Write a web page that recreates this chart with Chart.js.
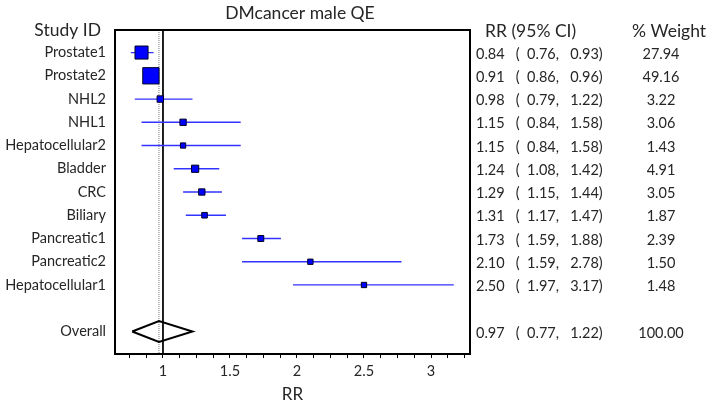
<!DOCTYPE html>
<html>
<head>
<meta charset="utf-8">
<script src="https://cdn.jsdelivr.net/npm/chart.js@4.4.1/dist/chart.umd.min.js"></script>
<style>
  html, body { margin: 0; padding: 0; background: #fff; }
  #wrap { width: 714px; height: 407px; }
</style>
</head>
<body>
<div id="wrap"><canvas id="forest" width="714" height="407"></canvas></div>
<script>
const chartTitle = 'DMcancer male QE';
const studies = ['Prostate1', 'Prostate2', 'NHL2', 'NHL1', 'Hepatocellular2', 'Bladder', 'CRC', 'Biliary', 'Pancreatic1', 'Pancreatic2', 'Hepatocellular1'];
const rr = [0.84, 0.91, 0.98, 1.15, 1.15, 1.24, 1.29, 1.31, 1.73, 2.10, 2.50];
const ciLow = [0.76, 0.86, 0.79, 0.84, 0.84, 1.08, 1.15, 1.17, 1.59, 1.59, 1.97];
const ciHigh = [0.93, 0.96, 1.22, 1.58, 1.58, 1.42, 1.44, 1.47, 1.88, 2.78, 3.17];
const weights = [27.94, 49.16, 3.22, 3.06, 1.43, 4.91, 3.05, 1.87, 2.39, 1.50, 1.48];
const overallLabel = 'Overall';
const overallRR = 0.97;
const overallLow = 0.77;
const overallHigh = 1.22;
const overallWeight = 100.00;
const xTickLabels = [1, 1.5, 2, 2.5, 3];

const FONT = 'Lato';
const TEXT = '#262626';

// row layout: one row per study, a blank row, then the overall row
const overallRow = studies.length + 1;
const rowLabels = studies.concat(['', overallLabel]);
const yMin = -0.97, yMax = overallRow + 0.97;

const squares = rr.map((v, i) => ({ x: v, y: i }));
const boxSide = weights.map(w => 3 + 1.9 * Math.sqrt(w));
const ciSegments = [];
rr.forEach((v, i) => {
  ciSegments.push({ x: ciLow[i], y: i }, { x: ciHigh[i], y: i }, { x: null, y: null });
});
const dh = 0.45;
const diamond = [
  { x: overallLow, y: overallRow },
  { x: overallRR, y: overallRow - dh },
  { x: overallHigh, y: overallRow },
  { x: overallRR, y: overallRow + dh },
  { x: overallLow, y: overallRow }
];

const fmt = v => v.toFixed(2);

const tablePlugin = {
  id: 'forestTable',
  afterDraw(chart) {
    const { ctx, chartArea: a, scales: { y } } = chart;
    ctx.save();
    ctx.strokeStyle = '#000';
    ctx.lineWidth = 2;
    ctx.strokeRect(a.left, a.top, a.right - a.left, a.bottom - a.top);

    ctx.fillStyle = TEXT;
    ctx.textBaseline = 'alphabetic';
    ctx.font = '17.5px ' + FONT;
    ctx.textAlign = 'center';
    ctx.fillText(chartTitle, 300, 19);
    ctx.textAlign = 'right';
    ctx.fillText('Study ID', 101, 36);
    ctx.textAlign = 'left';
    ctx.fillText('RR (95% CI)', 485, 37);
    ctx.fillText('% Weight', 632, 37);

    ctx.font = '14.5px ' + FONT;
    ctx.textBaseline = 'middle';
    const rows = rr.map((v, i) => [i, v, ciLow[i], ciHigh[i], weights[i]]);
    rows.push([overallRow, overallRR, overallLow, overallHigh, overallWeight]);
    rows.forEach(([row, est, lo, hi, w]) => {
      const py = y.getPixelForValue(row) + 1.5;
      ctx.textAlign = 'left';
      ctx.fillText(fmt(est) + '   (  ' + fmt(lo) + ',   ' + fmt(hi) + ')', 476, py);
      ctx.textAlign = 'center';
      ctx.fillText(fmt(w), 661, py);
    });
    ctx.restore();
  }
};

new Chart(document.getElementById('forest'), {
  type: 'scatter',
  data: {
    datasets: [
      {
        data: squares,
        pointStyle: 'rect',
        pointRadius: boxSide.map(s => s / Math.SQRT2),
        backgroundColor: '#0000ff',
        borderColor: '#000022',
        pointBorderWidth: 1
      },
      {
        data: ciSegments,
        showLine: true,
        spanGaps: false,
        borderColor: '#3333ff',
        borderWidth: 1.3,
        pointRadius: 0
      },
      {
        data: diamond,
        showLine: true,
        borderColor: '#000',
        borderWidth: 2,
        pointRadius: 0
      },
      {
        data: [{ x: overallRR, y: yMin }, { x: overallRR, y: yMax }],
        showLine: true,
        borderColor: '#777',
        borderWidth: 1,
        borderDash: [1, 1],
        pointRadius: 0
      },
      {
        data: [{ x: 1, y: yMin }, { x: 1, y: yMax }],
        showLine: true,
        borderColor: '#000',
        borderWidth: 1,
        pointRadius: 0
      }
    ]
  },
  options: {
    responsive: false,
    animation: false,
    layout: { padding: { top: 30, right: 244, left: 0, bottom: 0 } },
    plugins: {
      legend: { display: false },
      tooltip: { enabled: false }
    },
    scales: {
      x: {
        type: 'linear',
        min: 0.642,
        max: 3.291,
        afterBuildTicks(scale) {
          const t = [];
          for (let v = 0.75; v <= 3.26; v += 0.125) t.push({ value: Math.round(v * 1000) / 1000 });
          scale.ticks = t;
        },
        afterFit(scale) { scale.height = 53; },
        border: { display: false },
        grid: { display: true, drawOnChartArea: false, drawTicks: true, tickLength: 4, color: '#000', lineWidth: 1 },
        ticks: {
          autoSkip: false,
          maxRotation: 0,
          padding: 5,
          color: TEXT,
          font: { family: FONT, size: 14.5 },
          callback: v => xTickLabels.includes(v) ? String(v) : ''
        },
        title: {
          display: true,
          text: 'RR',
          color: TEXT,
          font: { family: FONT, size: 17 },
          padding: { top: 0, bottom: 2 }
        }
      },
      y: {
        type: 'linear',
        reverse: true,
        min: yMin,
        max: yMax,
        afterBuildTicks(scale) {
          scale.ticks = rowLabels.map((_, i) => ({ value: i }));
        },
        afterFit(scale) { scale.width = 115; },
        border: { display: false },
        grid: { display: false, drawTicks: false },
        ticks: {
          autoSkip: false,
          padding: 9,
          color: TEXT,
          font: { family: FONT, size: 14.5 },
          callback: v => rowLabels[v] !== undefined ? rowLabels[v] : ''
        }
      }
    }
  },
  plugins: [tablePlugin]
});
</script>
</body>
</html>
